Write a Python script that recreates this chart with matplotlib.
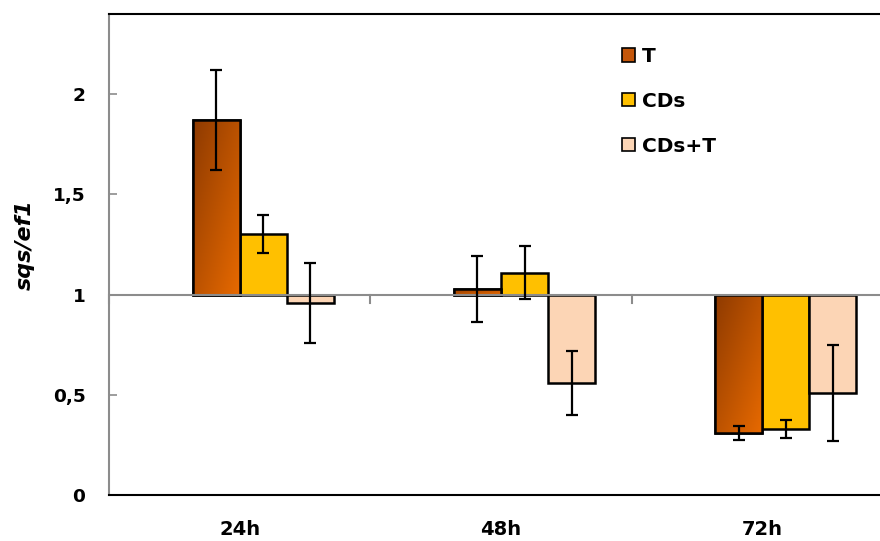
import numpy as np
import matplotlib
matplotlib.use('Agg')
import matplotlib.pyplot as plt
from matplotlib.colors import LinearSegmentedColormap
from matplotlib.patches import Patch

plt.rcParams['font.family'] = ['DejaVu Sans']
plt.rcParams['font.weight'] = 'bold'

# veriler
categories = ['24h', '48h', '72h']
series_names = ['T', 'CDs', 'CDs+T']
t_vals = [1.87, 1.03, 0.31]
t_err = [0.25, 0.165, 0.035]
cds_vals = [1.30, 1.11, 0.33]
cds_err = [0.095, 0.13, 0.045]
cdst_vals = [0.96, 0.56, 0.51]
cdst_err = [0.20, 0.16, 0.24]
y_ticks = [0, 0.5, 1, 1.5, 2]
y_tick_labels = ['0', '0,5', '1', '1,5', '2']

baseline = 1.0
bar_w = 0.18
offsets = [-0.5, 0.5, 1.5]
colors = ['#C4560A', '#FFC000', '#FCD5B5']
grad = LinearSegmentedColormap.from_list('tgrad', ['#8E3A00', '#E86A00'])

fig = plt.figure(figsize=(8.8, 5.41), dpi=100)
ax = fig.add_axes([109 / 880, 46 / 541, 784 / 880, 481 / 541])

x = np.arange(len(categories))
all_vals = [t_vals, cds_vals, cdst_vals]
all_err = [t_err, cds_err, cdst_err]

for i, (vals, errs) in enumerate(zip(all_vals, all_err)):
    xs = x + offsets[i] * bar_w
    heights = np.array(vals) - baseline
    bars = ax.bar(xs, heights, bottom=baseline, width=bar_w, color=colors[i],
                  edgecolor='black', linewidth=1.8, zorder=2)
    if i == 0:
        # T sütunları için gradyan dolgu
        for b in bars:
            bx, by = b.get_x(), b.get_y()
            bw, bh = b.get_width(), b.get_height()
            yy, xx = np.mgrid[0:1:100j, 0:1:100j]
            g = (xx + yy) / 2.0
            y0, y1 = min(by, by + bh), max(by, by + bh)
            im = ax.imshow(g, cmap=grad, extent=[bx, bx + bw, y0, y1],
                           origin='upper', aspect='auto', zorder=2.1)
            im.set_clip_path(b)
            ax.bar(bx + bw / 2, bh, bottom=by, width=bw, fill=False,
                   edgecolor='black', linewidth=1.8, zorder=2.2)
    ax.errorbar(xs, vals, yerr=errs, fmt='none', ecolor='black',
                elinewidth=1.6, capsize=4.6, capthick=1.6, zorder=4)

# yatay eksen 1'de
ax.axhline(baseline, color='#8C8C8C', linewidth=1.5, zorder=3)
bounds = np.arange(len(categories) + 1) - 0.5
for bx in bounds:
    ax.plot([bx, bx], [baseline, baseline - 0.04], color='#8C8C8C',
            linewidth=1.5, zorder=3, clip_on=False)

ax.set_xlim(-0.5, 2.5)
ax.set_ylim(0, 2.4)
ax.set_yticks(y_ticks)
ax.set_yticklabels(y_tick_labels, fontsize=13.3, fontweight='bold')
ax.tick_params(axis='y', direction='in', length=6, width=1.2,
               color='#8C8C8C', pad=17)
ax.set_xticks(x)
ax.set_xticklabels(categories, fontsize=14, fontweight='bold')
ax.tick_params(axis='x', length=0, pad=18)

ax.spines['left'].set_color('#8C8C8C')
ax.spines['left'].set_linewidth(1.5)
ax.spines['bottom'].set_color('black')
ax.spines['bottom'].set_linewidth(1.5)
ax.spines['top'].set_color('black')
ax.spines['top'].set_linewidth(1.5)
ax.spines['right'].set_visible(False)

fig.text(25 / 880, 1 - 245 / 541, 'sqs/ef1', rotation=90, fontsize=16,
         fontweight='bold', fontstyle='italic', ha='center', va='center')

handles = [Patch(facecolor=c, edgecolor='black', linewidth=1.2) for c in colors]
leg = ax.legend(handles, series_names, loc='upper left',
                bbox_to_anchor=((622 - 109) / 784, 1 - 33 / 481),
                frameon=False, fontsize=14.5, handlelength=0.65,
                handleheight=0.65, handletextpad=0.35, labelspacing=1.28,
                borderpad=0, borderaxespad=0)
for t in leg.get_texts():
    t.set_fontweight('bold')

fig.savefig('out.png', dpi=100)
